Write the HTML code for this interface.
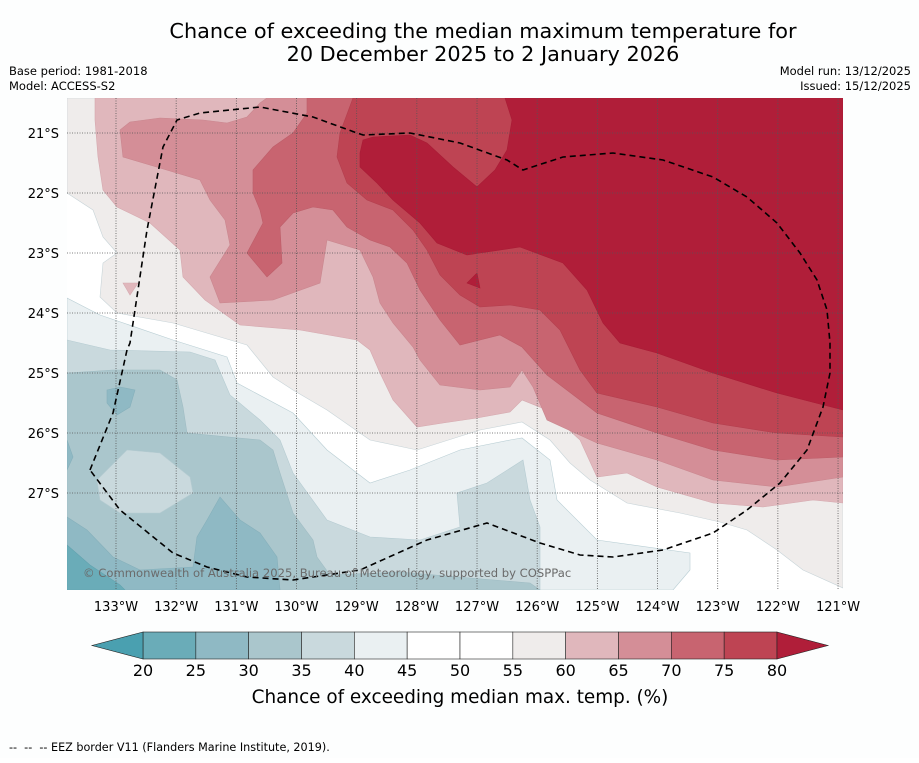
<!DOCTYPE html>
<html><head><meta charset="utf-8">
<style>
body{margin:0;background:#fff;font-family:"Liberation Sans","DejaVu Sans",sans-serif;}
svg text{font-family:"DejaVu Sans","Liberation Sans",sans-serif;}
</style></head>
<body>
<svg id="chart" width="919" height="758" viewBox="0 0 919 758" xmlns="http://www.w3.org/2000/svg">
<rect width="919" height="758" fill="#fdfefe"/>
<text x="483" y="38" font-size="20.8" text-anchor="middle" fill="#000">Chance of exceeding the median maximum temperature for</text>
<text x="483" y="61" font-size="20.8" text-anchor="middle" fill="#000">20 December 2025 to 2 January 2026</text>
<text x="9" y="75" font-size="11.5">Base period: 1981-2018</text>
<text x="9" y="90" font-size="11.5">Model: ACCESS-S2</text>
<text x="911" y="75" font-size="11.5" text-anchor="end">Model run: 13/12/2025</text>
<text x="911" y="90" font-size="11.5" text-anchor="end">Issued: 15/12/2025</text>
<defs><clipPath id="mapclip"><rect x="67" y="98" width="776" height="492"/></clipPath></defs>
<g id="map" clip-path="url(#mapclip)"><rect x="67" y="98" width="776" height="492" fill="#ffffff"/></g>
<g id="grid"></g>
<g id="eez"></g>
<text x="83" y="577" font-size="11.6" fill="#6b6b6b">© Commonwealth of Australia 2025, Bureau of Meteorology, supported by COSPPac</text>
<g id="axes"></g>
<g id="cbar"></g>
<text x="460" y="703" font-size="18.4" text-anchor="middle">Chance of exceeding median max. temp. (%)</text>
<text x="9" y="751" font-size="11.2" xml:space="preserve" style="white-space:pre">--  --  -- EEZ border V11 (Flanders Marine Institute, 2019).</text>
</svg>
<script>
// colour scale data
const levels = [20,25,30,35,40,45,50,55,60,65,70,75,80];
const bandColors = ["#6aacb8","#8fb9c4","#aac6cc","#c9d9dd","#eaf0f2","#ffffff","#ffffff","#efeceb","#e0b7bc","#d48e97","#c86470","#be4453"];
const lowColor = "#4aa0b0";
const highColor = "#b01e39";
// axis data
const lonTicks = [-133,-132,-131,-130,-129,-128,-127,-126,-125,-124,-123,-122,-121];
const latTicks = [-21,-22,-23,-24,-25,-26,-27];
// contour geometry (map pixel units), painted in order
const c55 = [[67,98],[843,98],[843,588],[803,570],[777,550],[747,530],[720,522],[680,513],[627,503],[590,480],[570,463],[550,440],[522,422],[480,430],[417,450],[370,440],[327,410],[293,390],[273,377],[247,345],[173,323],[117,313],[100,297],[103,263],[117,253],[103,237],[93,210],[67,193]];
const c60 = [[95,98],[843,98],[843,503],[813,500],[763,507],[713,503],[657,487],[627,473],[597,477],[580,440],[547,410],[522,400],[510,412],[477,418],[443,423],[417,427],[393,400],[380,373],[370,350],[357,340],[300,330],[240,325],[205,300],[183,277],[180,250],[150,223],[117,207],[103,190],[98,157],[95,120]];
const c60b = [[123,283],[138,283],[130,295]];
const c65 = [[267,98],[843,98],[843,477],[777,487],[713,480],[657,460],[597,443],[547,420],[533,387],[522,370],[510,387],[480,390],[440,385],[420,360],[413,347],[393,323],[380,303],[373,277],[360,250],[327,240],[320,283],[273,300],[220,303],[210,277],[230,245],[225,220],[210,200],[200,180],[160,168],[123,157],[120,130],[130,122],[160,118],[203,120],[227,123],[247,117],[260,103]];
const c70 = [[307,98],[843,98],[843,457],[777,460],[713,450],[657,433],[597,413],[547,375],[522,347],[500,335],[480,340],[460,345],[440,320],[420,290],[407,263],[390,247],[370,240],[347,227],[333,210],[313,207],[293,213],[280,227],[282,263],[267,277],[247,253],[263,223],[260,210],[253,193],[253,170],[273,147],[293,133],[307,113]];
const c75 = [[353,98],[843,98],[843,437],[777,433],[713,423],[657,407],[597,393],[580,370],[560,330],[540,310],[510,305],[480,307],[460,295],[440,275],[427,250],[413,230],[393,210],[367,200],[347,183],[337,157],[340,133]];
const c80 = [[505,98],[843,98],[843,410],[777,393],[713,373],[657,353],[620,343],[603,323],[587,290],[563,263],[520,247],[480,253],[467,255],[437,243],[420,223],[393,200],[377,183],[360,167],[360,153],[363,140],[373,137],[410,135],[427,143],[453,167],[477,187],[495,170],[507,150],[512,120]];
const c80b = [[467,283],[477,273],[480,288]];
const b45 = [[67,298],[100,315],[173,340],[227,357],[237,383],[250,390],[293,413],[327,450],[370,483],[410,470],[460,450],[510,440],[522,438],[550,460],[557,500],[597,540],[690,553],[690,570],[673,590],[67,590]];
const b40 = [[67,340],[110,350],[190,352],[215,360],[230,395],[260,420],[280,440],[293,473],[327,520],[370,537],[420,540],[460,527],[457,493],[487,483],[523,460],[530,500],[540,527],[540,590],[67,590]];
const b35 = [[67,373],[113,370],[160,370],[177,380],[183,407],[187,433],[260,440],[273,450],[280,473],[293,513],[313,540],[317,557],[330,575],[400,572],[470,578],[530,583],[540,590],[67,590]];
const b35i = [[97,480],[127,450],[160,453],[190,477],[193,493],[160,513],[120,513],[100,500]];
const b30 = [[67,517],[87,530],[113,557],[140,570],[193,567],[197,537],[207,520],[220,497],[240,520],[260,533],[277,557],[280,590],[67,590]];
const b30b = [[107,390],[120,387],[135,390],[130,407],[117,415],[107,403]];
const b30c = [[67,440],[73,457],[67,470]];
const b25 = [[67,545],[90,565],[120,585],[125,590],[67,590]];
const eezPath = [[90,470],[113,413],[127,350],[130,343],[147,230],[163,147],[177,120],[200,113],[260,107],[313,117],[357,133],[363,135],[410,133],[460,143],[507,160],[523,170],[563,157],[613,153],[663,160],[713,177],[747,197],[777,223],[800,253],[817,280],[827,310],[830,343],[830,373],[823,407],[807,450],[780,483],[747,510],[713,533],[663,550],[613,557],[580,555],[540,543],[487,523],[427,540],[360,570],[293,580],[247,577],[207,567],[173,553],[120,510],[90,470]];

const NS = "http://www.w3.org/2000/svg";
// axis functions
const lonX = lon => 116 + (lon + 133) * 60.17;
const latY = lat => 133 + (-21 - lat) * 60;
const valX = v => 143 + (v - 20) * (634 / 60);
const cbTop = 632, cbBot = 659;

function poly(parent, pts, fill, stroke){
  const p = document.createElementNS(NS,"polygon");
  p.setAttribute("points", pts.map(q=>q.join(",")).join(" "));
  p.setAttribute("fill", fill);
  p.setAttribute("stroke", stroke || "none");
  p.setAttribute("stroke-width", "0.6");
  parent.appendChild(p);
  return p;
}
const map = document.getElementById("map");
const layers = [
  [c55,"#efeceb","#c8d4d8","contour-55"],[c60,"#e0b7bc","#d5a9af","contour-60"],[c60b,"#e0b7bc","#d5a9af","contour-60-island"],
  [c65,"#d48e97","#c9868e","contour-65"],[c70,"#c86470","#bd5e69","contour-70"],[c75,"#be4453","#b33f4e","contour-75"],
  [c80,"#b01e39","#a81c36","contour-80"],[c80b,"#b01e39","#a81c36","contour-80-island"],
  [b45,"#eaf0f2","#b9ced4","contour-45"],[b40,"#c9d9dd","#b5cbd1","contour-40"],[b35,"#aac6cc","#9fbcc3","contour-35"],
  [b35i,"#c9d9dd","#b5cbd1","contour-35-island"],[b30,"#8fb9c4","#86b0bb","contour-30"],[b30b,"#8fb9c4","#86b0bb","contour-30-patch"],
  [b30c,"#8fb9c4","#86b0bb","contour-30-edge"],[b25,"#6aacb8","#62a3af","contour-25"]
];
layers.forEach(l=>{
  const p = poly(map, l[0], l[1], l[2]);
  
  
});

// graticule
const grid = document.getElementById("grid");
const axes = document.getElementById("axes");
lonTicks.forEach(lon=>{
  const x = lonX(lon);
  const ln = document.createElementNS(NS,"line");
  ln.setAttribute("x1",x);ln.setAttribute("x2",x);ln.setAttribute("y1",98);ln.setAttribute("y2",590);
  ln.setAttribute("stroke","#555");ln.setAttribute("stroke-width","0.8");ln.setAttribute("stroke-dasharray","1,1.5");
  
  
  grid.appendChild(ln);
  const t = document.createElementNS(NS,"text");
  t.setAttribute("x",x);t.setAttribute("y",611);t.setAttribute("font-size","13");t.setAttribute("text-anchor","middle");
  t.textContent = Math.abs(lon)+"°W";
  
  
  axes.appendChild(t);
});
latTicks.forEach(lat=>{
  const y = latY(lat);
  const ln = document.createElementNS(NS,"line");
  ln.setAttribute("x1",67);ln.setAttribute("x2",843);ln.setAttribute("y1",y);ln.setAttribute("y2",y);
  ln.setAttribute("stroke","#555");ln.setAttribute("stroke-width","0.8");ln.setAttribute("stroke-dasharray","1,1.5");
  
  
  grid.appendChild(ln);
  const t = document.createElementNS(NS,"text");
  t.setAttribute("x",59);t.setAttribute("y",y+5);t.setAttribute("font-size","13");t.setAttribute("text-anchor","end");
  t.textContent = Math.abs(lat)+"°S";
  
  
  axes.appendChild(t);
});

// EEZ
const eez = document.getElementById("eez");
const pl = document.createElementNS(NS,"polyline");
pl.setAttribute("points", eezPath.map(q=>q.join(",")).join(" "));
pl.setAttribute("fill","none");pl.setAttribute("stroke","#000");pl.setAttribute("stroke-width","1.6");pl.setAttribute("stroke-dasharray","6,4");


eez.appendChild(pl);

// colorbar
const cb = document.getElementById("cbar");
for(let i=0;i<bandColors.length;i++){
  const r = document.createElementNS(NS,"rect");
  r.setAttribute("x",valX(levels[i]));r.setAttribute("y",cbTop);
  r.setAttribute("width",valX(levels[i+1])-valX(levels[i]));r.setAttribute("height",cbBot-cbTop);
  r.setAttribute("fill",bandColors[i]);r.setAttribute("stroke","#222");r.setAttribute("stroke-width","0.6");
  
  
  cb.appendChild(r);
}
const mid = (cbTop+cbBot)/2;
const lt = poly(cb, [[valX(levels[0]),cbTop],[92,mid],[valX(levels[0]),cbBot]], lowColor, "#222");


const rt = poly(cb, [[valX(levels[levels.length-1]),cbTop],[828,mid],[valX(levels[levels.length-1]),cbBot]], highColor, "#222");


levels.forEach(v=>{
  const t = document.createElementNS(NS,"text");
  t.setAttribute("x",valX(v));t.setAttribute("y",676);t.setAttribute("font-size","16");t.setAttribute("text-anchor","middle");
  t.textContent = v;
  
  
  cb.appendChild(t);
});
</script>
</body></html>
